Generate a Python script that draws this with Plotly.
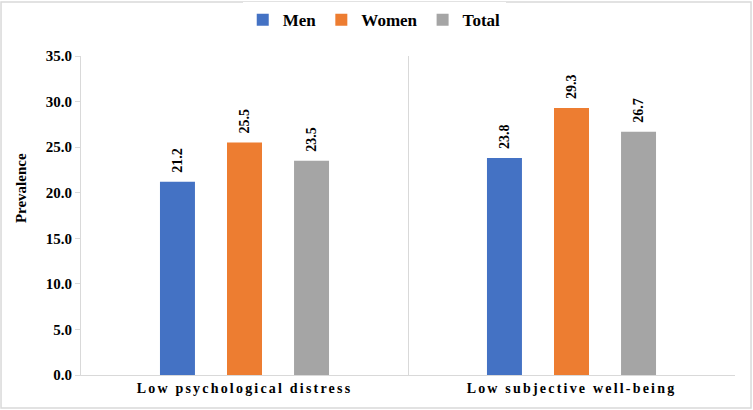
import plotly.graph_objects as go

categories = ["Low psychological distress", "Low subjective well-being"]
men = [21.2, 23.8]
women = [25.5, 29.3]
total = [23.5, 26.7]
y_ticks = [0, 5, 10, 15, 20, 25, 30, 35]
y_title = "Prevalence"

FONT = "Liberation Serif"
series = [("Men", men, "#4472C4"), ("Women", women, "#ED7D31"), ("Total", total, "#A5A5A5")]

fig = go.Figure()
for name, vals, col in series:
    fig.add_trace(go.Bar(
        x=categories, y=vals, name=name, marker=dict(color=col, line=dict(width=0)),
        text=[f"{v:.1f}" for v in vals], textposition="outside", textangle=-90,
        textfont=dict(family=FONT, size=14, color="black", weight="bold"),
        cliponaxis=False,
    ))

fig.update_layout(
    width=753, height=410,
    margin=dict(l=81, r=18, t=56, b=35, autoexpand=False),
    paper_bgcolor="white", plot_bgcolor="white",
    barmode="group", bargap=0.385, bargroupgap=0.478,
    font=dict(family=FONT, color="black"),
    showlegend=True,
    legend=dict(orientation="h", x=0.497, xanchor="center", xref="container",
                y=0.951, yanchor="middle", yref="container",
                font=dict(family=FONT, size=17, weight="bold"), itemwidth=30,
                traceorder="normal"),
    xaxis=dict(type="category", tickson="boundaries", showgrid=True, gridcolor="#D9D9D9",
               gridwidth=1, showline=True, linecolor="#D9D9D9", linewidth=1, ticks="",
               automargin=False,
               tickfont=dict(family=FONT, size=14, weight="bold"), zeroline=False),
    yaxis=dict(range=[0, 35], tickvals=y_ticks, tickformat=".1f", showgrid=False,
               showline=True, linecolor="#D9D9D9", linewidth=1, ticks="outside",
               ticklen=5, tickcolor="#D9D9D9", zeroline=False, automargin=False,
               tickfont=dict(family=FONT, size=15, weight="bold")),
    annotations=[dict(text=y_title, xref="paper", yref="paper", x=-0.0917, y=0.586,
                      xanchor="center", yanchor="middle", textangle=-90, showarrow=False,
                      font=dict(family=FONT, size=15, weight="bold", color="black"))],
    shapes=[dict(type="rect", xref="paper", yref="paper",
                 x0=-0.1223, x1=1.0245, y0=-0.1034, y1=1.169,
                 line=dict(color="#D9D9D9", width=1.5), fillcolor="rgba(0,0,0,0)", layer="below")],
)

post = """
document.body.style.margin='0';
document.querySelectorAll('.xtick text').forEach(function(t){t.style.letterSpacing='2.2px';});
document.querySelectorAll('.bars text.bartext').forEach(function(t){
  t.setAttribute('transform','translate(0,-6) ' + (t.getAttribute('transform') || ''));
});
"""
fig.write_html("out.html", post_script=post, config={"displayModeBar": False})
